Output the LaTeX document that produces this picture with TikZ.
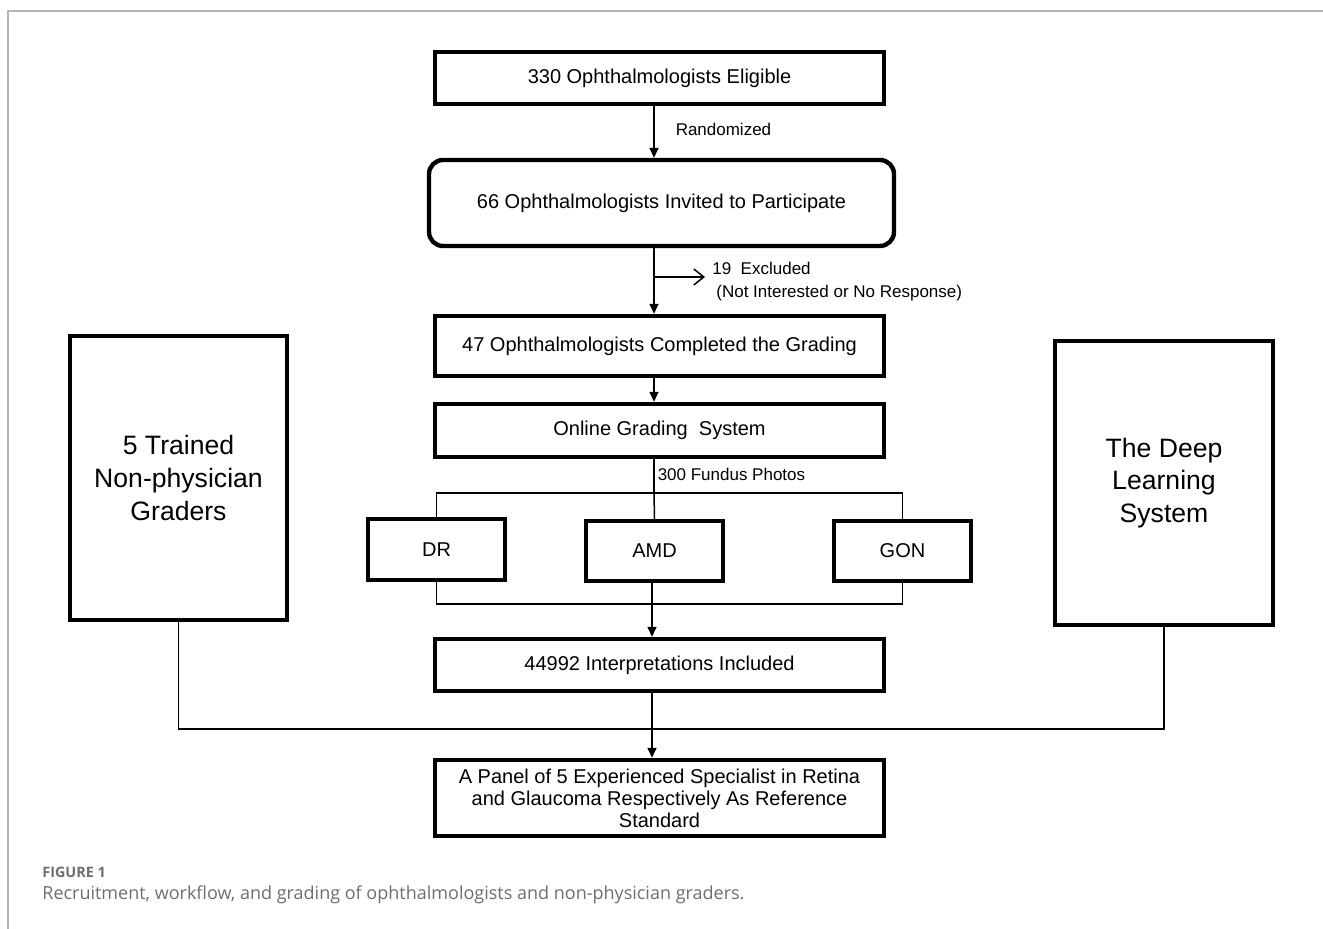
\documentclass[tikz,border=0pt]{standalone}
\usepackage{fontspec}
\setmainfont{Liberation Sans}
\newfontfamily\capfont{Open Sans}
\usetikzlibrary{arrows.meta,positioning,calc}
\definecolor{capgrey}{HTML}{6E6E6E}
\definecolor{rulegrey}{HTML}{B4B4B4}

\begin{document}
\begin{tikzpicture}[x=0.5pt, y=-0.5pt, font=\fontsize{10}{12}\selectfont]
  \tikzset{
    flowbox/.style ={draw, line width=2.2pt, minimum width=224.5pt, inner sep=0pt, align=center},
    roundbox/.style={flowbox, rounded corners=7pt, minimum width=232.5pt, minimum height=43pt},
    smallbox/.style={flowbox, minimum width=68.5pt, minimum height=30pt},
    sidebox/.style ={flowbox, minimum width=108.5pt, minimum height=142pt, font=\fontsize{13.3}{16.3}\selectfont},
    link/.style    ={line width=0.75pt},
    arr/.style     ={link, -{Triangle[length=5pt, width=4.5pt]}},
    note/.style    ={font=\fontsize{8.5}{11.5}\selectfont, inner sep=0pt, anchor=west, align=left},
  }
  \useasboundingbox (0,0) rectangle (1323,929);
  \draw[rulegrey, line width=0.75pt] (1323,11) -- (8,11) -- (8,929);

  % central column
  \node[flowbox, minimum height=26pt] (elig) at (659.5,78) {330 Ophthalmologists Eligible};
  \node[roundbox] (invit) at (661.5,203) {66 Ophthalmologists Invited to Participate};
  \node[flowbox, minimum height=30pt] (done) at (659.5,346) {47 Ophthalmologists Completed the Grading};
  \node[flowbox, minimum height=26.5pt] (online) at (659.5,430.5) {Online Grading\ \ System};
  \node[smallbox, minimum height=30.5pt] (dr) at (436.5,549.5) {DR};
  \node[smallbox] (amd) at (654.5,551) {AMD};
  \node[smallbox] (gon) at (902.5,551) {GON};
  \node[flowbox, minimum height=26pt] (interp) at (659.5,665) {44992 Interpretations Included};
  \node[flowbox, minimum height=38pt, font=\fontsize{10}{11}\selectfont] (panel) at (659.5,798)
    {A Panel of 5 Experienced Specialist in Retina\\and Glaucoma Respectively As Reference\\Standard};

  % side boxes
  \node[sidebox] (nonphys) at (178.5,478) {5 Trained\\Non-physician\\Graders};
  \node[sidebox, minimum width=109pt] (dls) at (1164,483) {The Deep\\Learning\\System};

  \coordinate (spine) at (654,0);
  \coordinate (excl) at (705,277);
  \coordinate (split) at (654,493);
  \coordinate (merge) at (652,604);
  \coordinate (join) at (652,729);

  \draw[arr] (elig.south -| spine) -- node[note, pos=0.45, xshift=10.5pt] (rand) {Randomized} (invit.north -| spine);
  \draw[arr] (invit.south -| spine) -- (done.north -| spine);
  \draw[link, -{Straight Barb[length=5pt, width=8pt]}] (excl -| spine) -- (excl);
  \node[note] (exlab) at (712,281.5) {19\ \ Excluded\\\hspace*{2pt}(Not Interested or No Response)};
  \draw[arr] (done.south -| spine) -- (online.north -| spine);

  \draw[link] (online.south -| spine) -- node[note, pos=0.45, xshift=1.5pt] (photos) {300 Fundus Photos} (split);
  \draw[link] (dr.north) |- (split) -| (gon.north);
  \draw[link] (split) -- (amd.north);
  \draw[link] (dr.south) |- (merge) -| (gon.south);
  \draw[arr] (amd.south -| merge) -- (interp.north -| merge);

  \draw[link] (nonphys.south) |- (join) -| (dls.south);
  \draw[arr] (interp.south -| join) -- (panel.north -| join);

  % caption
  \node[anchor=west, inner sep=0pt, text=capgrey, font=\capfont\bfseries\fontsize{7.2}{9}\selectfont] (fig) at (42,872) {FIGURE 1};
  \node[anchor=west, inner sep=0pt, text=capgrey, font=\capfont\fontsize{9}{11}\selectfont] (cap) at (42,895)
    {Recruitment, workflow, and grading of ophthalmologists and non-physician graders.};
\end{tikzpicture}
\end{document}
